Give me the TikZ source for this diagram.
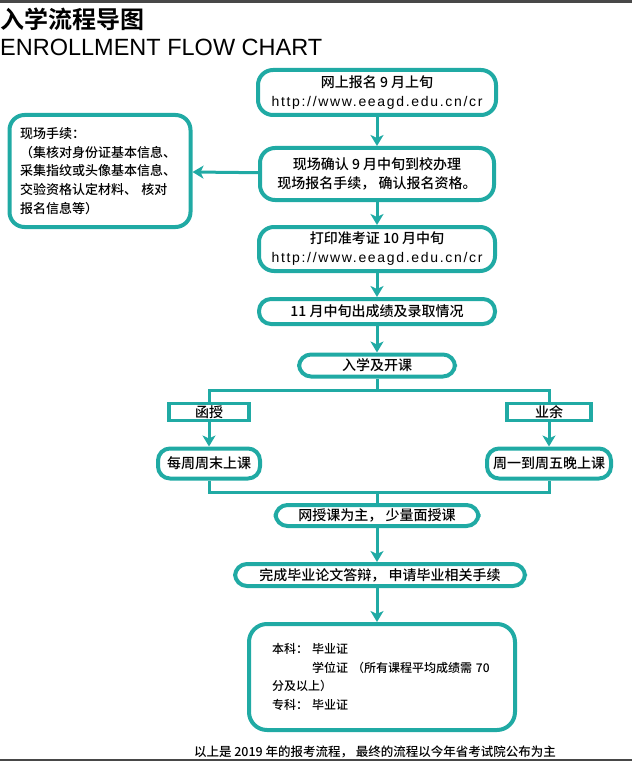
\documentclass[tikz,border=0pt]{standalone}
\usepackage{fontspec}
\setmainfont{Noto Sans CJK SC}[UprightFont=* Medium, BoldFont=* Bold]
\newfontfamily\urlfont{Liberation Sans}[LetterSpace=12]
\newfontfamily\titlefont{Liberation Sans}
\usetikzlibrary{arrows.meta}
\definecolor{flowteal}{RGB}{32,170,164}
\definecolor{bargray}{RGB}{72,72,72}
\tikzset{
  flowbox/.style={draw=flowteal, line width=4pt, rounded corners=15pt, align=center,
    inner sep=0pt, font=\fontsize{14}{19}\selectfont},
  pill/.style={flowbox, rounded corners=12pt},
  tagbox/.style={draw=flowteal, line width=3.5pt, inner sep=0pt,
    font=\fontsize{14}{19}\selectfont},
  flowarrow/.style={draw=flowteal, line width=3pt, -{Stealth[length=11pt,width=13pt,inset=3pt]}},
  flowline/.style={draw=flowteal, line width=3pt},
}
\newcommand{\site}{{\urlfont http://www.eeagd.edu.cn/cr}}

\begin{document}
\begin{tikzpicture}[x=1pt,y=-1pt]
\useasboundingbox (0,0) rectangle (632,762);
\fill[bargray] (0,0) rectangle (632,3.5);
\draw[bargray, line width=1.5pt] (0,760) -- (632,760);

% titles
\node[anchor=base west, inner sep=0pt, font=\bfseries\fontsize{24}{24}\selectfont] (title) at (0,28.5) {入学流程导图};
\node[anchor=base west, inner sep=0pt, font=\titlefont\fontsize{23.5}{23.5}\selectfont] (subtitle) at (0,56) {ENROLLMENT FLOW CHART};

% main column
\node[flowbox, minimum width=238, minimum height=45] (signup) at (377,92.5) {网上报名 9 月上旬\\ \site};
\node[flowbox, minimum width=234, minimum height=52] (confirm) at (377,174) {现场确认 9 月中旬到校办理\\ 现场报名手续， 确认报名资格。};
\node[flowbox, minimum width=181, minimum height=112, font=\fontsize{13}{18.8}\selectfont, text width=160, align=left] (onsite) at (100,171)
  {现场手续：\\（集核对身份证基本信息、\\采集指纹或头像基本信息、\\交验资格认定材料、 核对\\报名信息等）};
\node[flowbox, minimum width=236, minimum height=44] (ticket) at (377,249) {打印准考证 10 月中旬\\ \site};
\node[pill, minimum width=236, minimum height=25] (result) at (377,311.5) {11 月中旬出成绩及录取情况};
\node[pill, minimum width=156, minimum height=22] (enrol) at (377,365.5) {入学及开课};

% two study modes
\node[tagbox, minimum width=80, minimum height=17] (corresp) at (209,412) {函授};
\node[tagbox, minimum width=84, minimum height=17] (spare) at (549,412) {业余};
\node[pill, minimum width=102, minimum height=30] (weekend) at (209,463.5) {每周周末上课};
\node[pill, minimum width=124, minimum height=30] (weekday) at (549,463.5) {周一到周五晚上课};

\node[pill, minimum width=203, minimum height=21] (online) at (377,515.5) {网授课为主， 少量面授课};
\node[pill, minimum width=290, minimum height=22] (thesis) at (380,575) {完成毕业论文答辩， 申请毕业相关手续};
\node[flowbox, rounded corners=18pt, minimum width=266, minimum height=106, text width=220, align=left,
  font=\fontsize{12}{18.7}\selectfont] (degree) at (382,677)
  {本科： 毕业证\\ \phantom{本科：} 学位证 （所有课程平均成绩需 70\\ 分及以上）\\ 专科： 毕业证};

\node[font=\fontsize{12.5}{12.5}\selectfont, inner sep=0pt] (note) at (375,752) {以上是 2019 年的报考流程， 最终的流程以今年省考试院公布为主};

% connectors
\coordinate (split) at (377,390);
\coordinate (join) at (377,492);
\draw[flowarrow] (signup) -- (confirm);
\draw[flowarrow] (confirm) -- (onsite);
\draw[flowarrow] (confirm) -- (ticket);
\draw[flowarrow] (ticket) -- (result);
\draw[flowarrow] (result) -- (enrol);
\draw[flowline] (enrol) -- (split);
\draw[flowline] (corresp.north) |- (split) -| (spare.north);
\draw[flowarrow] (corresp) -- (weekend);
\draw[flowarrow] (spare) -- (weekday);
\draw[flowline] (weekend.south) |- (join) -| (weekday.south);
\draw[flowline] (join) -- (online);
\draw[flowarrow] (online) -- (online |- thesis.north);
\draw[flowarrow] (thesis.south -| online) -- (degree.north -| online);
\end{tikzpicture}
\end{document}
